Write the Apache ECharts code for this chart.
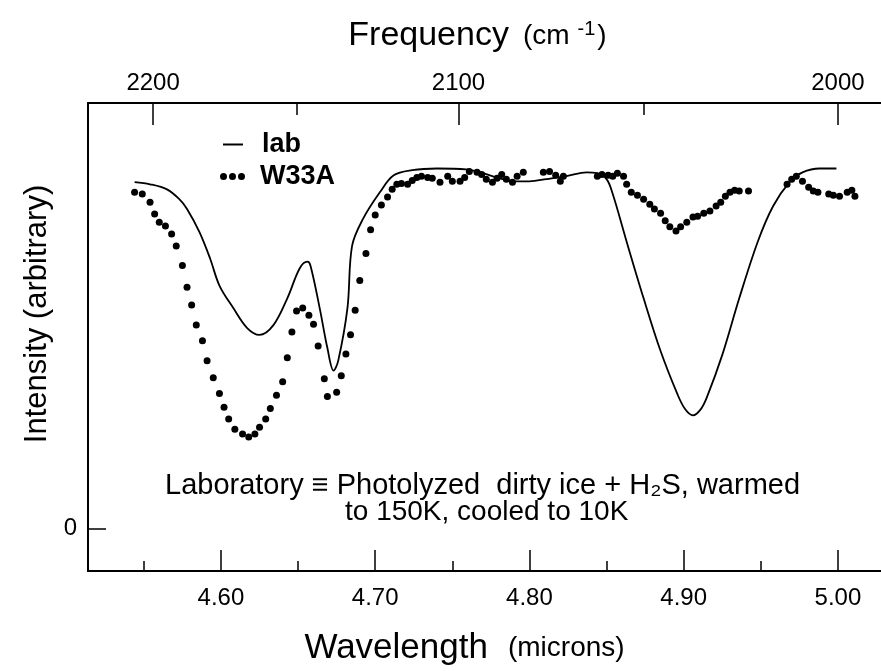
<!DOCTYPE html>
<html>
<head>
<meta charset="utf-8">
<script src="https://cdn.jsdelivr.net/npm/echarts@6/dist/echarts.min.js"></script>
<style>
  html, body { margin: 0; padding: 0; background: #fff; }
  #chart { width: 881px; height: 671px; }
</style>
</head>
<body>
<div id="chart"></div>
<script>
// ---- data (wavelength in microns, intensity in arbitrary units, 0 = zero level) ----
const labWavelength = [4.544,4.554,4.565,4.573,4.578,4.586,4.593,4.599,4.608,4.617,4.625,4.634,4.643,4.651,4.656,4.658,4.664,4.669,4.673,4.676,4.682,4.685,4.692,4.703,4.712,4.724,4.740,4.759,4.768,4.779,4.789,4.800,4.811,4.824,4.837,4.844,4.850,4.854,4.863,4.874,4.885,4.896,4.901,4.906,4.911,4.915,4.925,4.936,4.948,4.958,4.969,4.977,4.988,4.999];
const labIntensity = [81.4,80.9,79.7,77.4,75.1,69.7,63.4,57.1,51.8,47.1,45.5,47.8,54.1,61.1,62.7,61.8,51.8,42.4,37.1,39.4,51.8,66.4,72.7,79.0,83.0,84.2,84.6,84.4,83.7,82.5,81.6,81.6,82.1,82.8,83.7,83.5,82.1,78.6,67.4,54.1,41.7,31.5,28.0,26.6,28.0,30.8,40.8,54.1,67.4,75.8,81.6,83.7,84.6,84.6];

const w33aWavelength = [4.544,4.549,4.554,4.557,4.560,4.564,4.568,4.571,4.575,4.578,
  4.581,4.584,4.588,4.591,4.595,4.599,4.602,4.605,4.609,4.614,
  4.618,4.622,4.625,4.629,4.632,4.636,4.640,4.643,4.646,4.649,
  4.653,4.657,4.660,4.663,4.667,4.669,4.675,4.678,4.681,4.684,
  4.687,4.690,4.694,4.697,4.700,4.704,4.708,4.711,4.714,4.717,
  4.721,4.724,4.727,4.730,4.734,4.737,4.742,4.747,4.750,4.755,
  4.758,4.761,4.766,4.769,4.772,4.776,4.779,4.782,4.785,4.789,
  4.792,4.796,4.809,4.813,4.817,4.820,4.822,4.844,4.847,4.851,
  4.854,4.857,4.861,4.863,4.866,4.870,4.874,4.878,4.881,4.885,
  4.888,4.891,4.895,4.898,4.902,4.906,4.909,4.913,4.917,4.921,
  4.924,4.927,4.930,4.933,4.936,4.942,4.967,4.970,4.973,4.977,
  4.981,4.984,4.987,4.994,4.997,5.001,5.006,5.009,5.011];
const w33aIntensity = [79.0,78.6,76.7,73.9,72.0,71.1,69.2,66.4,61.8,56.7,
  52.5,47.8,44.1,39.4,35.4,31.7,28.5,25.7,23.3,22.2,
  21.5,22.2,23.8,25.7,28.2,31.3,34.5,40.1,46.2,51.1,
  51.8,50.1,48.0,42.9,35.2,31.0,32.0,35.9,41.0,45.5,
  51.3,58.3,64.6,70.2,73.7,76.0,77.9,79.7,80.9,81.1,
  80.9,81.8,82.5,82.8,82.5,82.3,81.4,82.8,81.6,81.6,
  82.5,83.9,83.7,83.2,82.1,81.4,82.3,83.2,82.1,81.4,
  82.8,83.7,83.7,83.9,83.0,81.6,82.8,82.8,83.2,83.0,
  82.8,83.5,82.8,80.9,79.0,78.3,77.4,76.2,75.1,74.1,
  72.3,70.9,69.9,70.9,72.0,73.2,73.4,74.1,74.6,75.8,
  76.7,78.1,79.0,79.5,79.3,79.3,80.9,82.1,82.8,81.6,
  80.2,79.3,79.0,78.6,78.3,78.1,79.0,79.5,78.1];

// ---- axis ticks ----
const wavelengthMajorTicks = [4.60, 4.70, 4.80, 4.90, 5.00];
const wavelengthMinorTicks = [4.55, 4.65, 4.75, 4.85, 4.95];
const frequencyLabels = ['2200', '2100', '2000'];
// where the drawn frequency ticks sit on the wavelength scale
const frequencyMajorTickPos = [4.556, 4.754, 5.000];
const frequencyMinorTickPos = [4.649, 4.874];
const intensityTicks = [0];

const annotationLines = ['Laboratory \u2261 Photolyzed  dirty ice + H\u2082S, warmed', 'to 150K, cooled to 10K'];

// ---- build ----
const labData = labWavelength.map((w, i) => [w, labIntensity[i]]);
const w33aData = w33aWavelength.map((w, i) => [w, w33aIntensity[i]]);

const X_MIN = 4.5138, X_MAX = 5.0279;
const FONT = "'Liberation Sans', Arial, Helvetica, sans-serif";
const BLACK = '#000';

function baseX(extra) {
  return Object.assign({
    type: 'value', min: X_MIN, max: X_MAX,
    splitLine: { show: false },
    axisLine: { show: false, onZero: false },
    axisLabel: { show: false },
    axisTick: { show: false }
  }, extra);
}

const chart = echarts.init(document.getElementById('chart'), null, { renderer: 'canvas' });

chart.setOption({
  backgroundColor: '#fff',
  animation: false,
  grid: { left: 88, right: 0, top: 103, bottom: 96, containLabel: false },
  textStyle: { fontFamily: FONT, color: BLACK },
  legend: [
    {
      data: [{ name: 'lab', icon: 'rect' }],
      left: 223, top: 131, padding: 0,
      itemWidth: 20, itemHeight: 2,
      itemStyle: { color: BLACK, opacity: 1 },
      textStyle: { fontFamily: FONT, fontSize: 27, fontWeight: 'bold', color: BLACK, padding: [0, 0, 0, 14] },
      selectedMode: false
    },
    {
      data: [{ name: 'W33A', icon: 'path://M0,3.5a3.5,3.5 0 1,0 7,0a3.5,3.5 0 1,0 -7,0zM9,3.5a3.5,3.5 0 1,0 7,0a3.5,3.5 0 1,0 -7,0zM18,3.5a3.5,3.5 0 1,0 7,0a3.5,3.5 0 1,0 -7,0z' }],
      left: 220, top: 163, padding: 0,
      itemWidth: 25, itemHeight: 7,
      itemStyle: { color: BLACK, opacity: 1 },
      textStyle: { fontFamily: FONT, fontSize: 27, fontWeight: 'bold', color: BLACK, padding: [0, 0, 0, 10] },
      selectedMode: false
    }
  ],
  xAxis: [
    baseX({
      position: 'bottom',
      axisLine: { show: true, onZero: false, lineStyle: { color: BLACK, width: 2 } },
      axisTick: { show: true, inside: true, length: 21, customValues: wavelengthMajorTicks, lineStyle: { color: BLACK, width: 1.5 } },
      axisLabel: { show: true, customValues: wavelengthMajorTicks, formatter: v => v.toFixed(2), fontSize: 24, fontFamily: FONT, color: BLACK, margin: 15 },
      name: '{a|Wavelength}{b|(microns)}',
      nameLocation: 'middle', nameGap: 60,
      nameTextStyle: {
        padding: [0, 40, 0, 0],
        rich: {
          a: { fontSize: 35, fontFamily: FONT, color: BLACK },
          b: { fontSize: 28, fontFamily: FONT, color: BLACK, padding: [0, 0, 0, 20] }
        }
      }
    }),
    baseX({
      position: 'bottom',
      axisTick: { show: true, inside: true, length: 10, customValues: wavelengthMinorTicks, lineStyle: { color: BLACK, width: 1.5 } },
      axisLabel: { show: false, customValues: wavelengthMinorTicks }
    }),
    baseX({
      position: 'top',
      axisLine: { show: true, onZero: false, lineStyle: { color: BLACK, width: 2 } },
      axisTick: { show: true, inside: true, length: 22, customValues: frequencyMajorTickPos, lineStyle: { color: BLACK, width: 1.5 } },
      axisLabel: {
        show: true, customValues: frequencyMajorTickPos, fontSize: 24, fontFamily: FONT, color: BLACK, margin: 8,
        formatter: v => {
          let best = 0;
          frequencyMajorTickPos.forEach((p, i) => { if (Math.abs(p - v) < Math.abs(frequencyMajorTickPos[best] - v)) best = i; });
          return frequencyLabels[best];
        }
      },
      name: '{a|Frequency}{b0|(cm}{c|-1}{b|)}',
      nameLocation: 'middle', nameGap: 50,
      nameTextStyle: {
        padding: [0, 14, 0, 0],
        rich: {
          a: { fontSize: 34, fontFamily: FONT, color: BLACK },
          b0: { fontSize: 28, fontFamily: FONT, color: BLACK, padding: [0, 0, 0, 14] },
          b: { fontSize: 28, fontFamily: FONT, color: BLACK },
          c: { fontSize: 20, fontFamily: FONT, color: BLACK, verticalAlign: 'top', padding: [0, 2, 0, 8] }
        }
      }
    }),
    baseX({
      position: 'top',
      axisTick: { show: true, inside: true, length: 12, customValues: frequencyMinorTickPos, lineStyle: { color: BLACK, width: 1.5 } },
      axisLabel: { show: false, customValues: frequencyMinorTickPos }
    })
  ],
  yAxis: {
    type: 'value', min: -10, max: 100,
    splitLine: { show: false },
    axisLine: { show: true, onZero: false, lineStyle: { color: BLACK, width: 2 } },
    axisTick: { show: true, inside: true, length: 18, customValues: intensityTicks, lineStyle: { color: BLACK, width: 1.5 } },
    axisLabel: { show: true, customValues: intensityTicks, fontSize: 24, fontFamily: FONT, color: BLACK, margin: 11 },
    name: 'Intensity (arbitrary)',
    nameLocation: 'middle', nameGap: 34,
    nameTextStyle: { fontSize: 31, fontFamily: FONT, color: BLACK, padding: [0, 0, 0, 46] }
  },
  graphic: [
    { type: 'text', left: 165, top: 471, style: { text: annotationLines[0], fontSize: 29, fontFamily: FONT, fill: BLACK } },
    { type: 'text', left: 345, top: 498, style: { text: annotationLines[1], fontSize: 28, fontFamily: FONT, fill: BLACK } }
  ],
  series: [
    {
      name: 'lab', type: 'line', xAxisIndex: 0, data: labData,
      symbol: 'none', smooth: 0.35,
      lineStyle: { color: BLACK, width: 1.8 },
      itemStyle: { color: BLACK }
    },
    {
      name: 'W33A', type: 'scatter', xAxisIndex: 0, data: w33aData,
      symbol: 'circle', symbolSize: 7,
      itemStyle: { color: BLACK, opacity: 1 }
    }
  ]
});
</script>
</body>
</html>
